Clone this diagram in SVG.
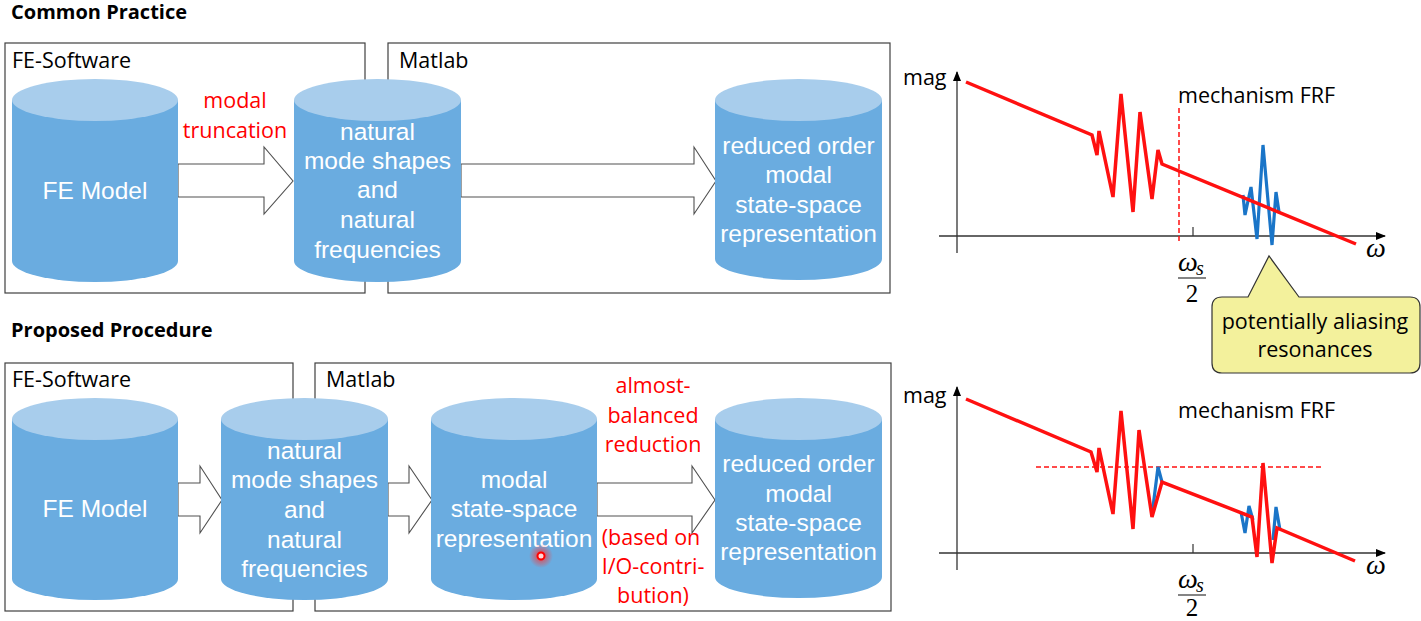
<svg xmlns="http://www.w3.org/2000/svg" width="1421" height="621" viewBox="0 0 1421 621">
<style>
.bg{fill:#ffffff}
.frame{fill:none;stroke:#404040;stroke-width:1.2}
.head{font-family:"Open Sans","Liberation Sans",sans-serif;font-weight:bold;font-size:20px;fill:#000}
.lbl{font-family:"Open Sans","Liberation Sans",sans-serif;font-size:21.5px;fill:#000}
.red{font-family:"Open Sans","Liberation Sans",sans-serif;font-size:21.5px;fill:#ff0000;text-anchor:middle}
.body{fill:#6aace0}
.top{fill:#a8cdec}
.ct{font-family:"Liberation Sans",Arial,sans-serif;font-size:24.5px;fill:#ffffff;text-anchor:middle}
.arrow{fill:#ffffff;stroke:#505050;stroke-width:1.1;stroke-linejoin:miter}
.axis{fill:none;stroke:#333;stroke-width:1.3}
.tick{fill:none;stroke:#333;stroke-width:1.2}
.frf{fill:none;stroke:#ff1010;stroke-width:3.5;stroke-linejoin:miter}
.blu{fill:none;stroke:#1a75c8;stroke-width:3.2;stroke-linejoin:miter}
.dash{fill:none;stroke:#ff1010;stroke-width:1.5;stroke-dasharray:5 3}
.math{font-family:"Liberation Serif","DejaVu Serif",serif;font-style:italic;font-size:28px;fill:#000}
.sub{font-family:"Liberation Serif","DejaVu Serif",serif;font-style:italic;font-size:20px;fill:#000}
.num{font-family:"Liberation Serif","DejaVu Serif",serif;font-size:25px;fill:#000;text-anchor:middle}
.callout{fill:#f3f19c;stroke:#333;stroke-width:1.2}
</style>
<defs>
<marker id="ah" viewBox="0 0 10 10" refX="9" refY="5" markerWidth="10" markerHeight="10" markerUnits="userSpaceOnUse" orient="auto">
<path d="M0,1 L10,5 L0,9 Z" fill="#000"/>
</marker>
<radialGradient id="glow">
<stop offset="0" stop-color="#ff3030" stop-opacity="0.9"/>
<stop offset="1" stop-color="#ff3030" stop-opacity="0"/>
</radialGradient>
</defs>
<rect class="bg" x="0" y="0" width="1421" height="621"/>

<!-- headings -->
<text class="head" x="11" y="19">Common Practice</text>
<text class="head" x="11" y="337">Proposed Procedure</text>

<!-- frames -->
<g id="frames">
<rect class="frame" x="5" y="43" width="360" height="250"/>
<rect class="frame" x="388" y="43" width="502" height="250"/>
<rect class="frame" x="5" y="363" width="288" height="248"/>
<rect class="frame" x="315" y="363" width="576" height="248"/>
<text class="lbl" x="12" y="68">FE-Software</text>
<text class="lbl" x="399" y="68">Matlab</text>
<text class="lbl" x="12" y="387">FE-Software</text>
<text class="lbl" x="326" y="387">Matlab</text>
</g>

<!-- connectors -->
<g id="connectors">
<polygon class="arrow" points="178,164 264,164 264,147 293,181 264,214 264,197 178,197"/>
<polygon class="arrow" points="461,164 694,164 694,147 716,181 694,214 694,197 461,197"/>
<polygon class="arrow" points="178,483 200,483 200,466 222,500 200,533 200,516 178,516"/>
<polygon class="arrow" points="388,483 409,483 409,466 432,500 409,533 409,516 388,516"/>
<polygon class="arrow" points="597,483 692,483 692,466 715,500 692,533 692,516 597,516"/>
<text class="red" x="235" y="108">modal</text>
<text class="red" x="235" y="138">truncation</text>
<text class="red" x="653" y="393">almost-</text>
<text class="red" x="653" y="423">balanced</text>
<text class="red" x="653" y="452">reduction</text>
<text class="red" x="651" y="545">(based on</text>
<text class="red" x="653" y="574">I/O-contri-</text>
<text class="red" x="653" y="603">bution)</text>
</g>

<!-- top cylinders -->
<g id="cp-fe-model">
<path class="body" d="M12,100 L12,261 A83,21 0 0 0 178,261 L178,100 Z"/>
<ellipse class="top" cx="95" cy="100" rx="83" ry="21"/>
<text class="ct" x="95" y="199">FE Model</text>
</g>
<g id="cp-natural-modes">
<path class="body" d="M294,100 L294,261 A83.5,21 0 0 0 461,261 L461,100 Z"/>
<ellipse class="top" cx="377.5" cy="100" rx="83.5" ry="21"/>
<text class="ct" x="377.5" y="140">natural</text>
<text class="ct" x="377.5" y="169">mode shapes</text>
<text class="ct" x="377.5" y="198">and</text>
<text class="ct" x="377.5" y="228">natural</text>
<text class="ct" x="377.5" y="258">frequencies</text>
</g>
<g id="cp-reduced">
<path class="body" d="M715,100 L715,259 A83.5,21 0 0 0 882,259 L882,100 Z"/>
<ellipse class="top" cx="798.5" cy="100" rx="83.5" ry="21"/>
<text class="ct" x="798.5" y="154">reduced order</text>
<text class="ct" x="798.5" y="183">modal</text>
<text class="ct" x="798.5" y="213">state-space</text>
<text class="ct" x="798.5" y="242">representation</text>
</g>

<!-- bottom cylinders -->
<g id="pp-fe-model">
<path class="body" d="M12,419 L12,579 A83,21 0 0 0 178,579 L178,419 Z"/>
<ellipse class="top" cx="95" cy="419" rx="83" ry="21"/>
<text class="ct" x="95" y="517">FE Model</text>
</g>
<g id="pp-natural-modes">
<path class="body" d="M221,419 L221,579 A83.5,21 0 0 0 388,579 L388,419 Z"/>
<ellipse class="top" cx="304.5" cy="419" rx="83.5" ry="21"/>
<text class="ct" x="304.5" y="459">natural</text>
<text class="ct" x="304.5" y="488">mode shapes</text>
<text class="ct" x="304.5" y="518">and</text>
<text class="ct" x="304.5" y="548">natural</text>
<text class="ct" x="304.5" y="577">frequencies</text>
</g>
<g id="pp-modal-ss">
<path class="body" d="M431,419 L431,579 A83,21 0 0 0 597,579 L597,419 Z"/>
<ellipse class="top" cx="514" cy="419" rx="83" ry="21"/>
<text class="ct" x="514" y="488">modal</text>
<text class="ct" x="514" y="517">state-space</text>
<text class="ct" x="514" y="547">representation</text>
<circle cx="541" cy="556" r="12" fill="url(#glow)"/>
<circle cx="541" cy="556" r="3.5" fill="#ffd6d6" stroke="#ff0000" stroke-width="2"/>
</g>
<g id="pp-reduced">
<path class="body" d="M715,419 L715,577 A83.5,21 0 0 0 882,577 L882,419 Z"/>
<ellipse class="top" cx="798.5" cy="419" rx="83.5" ry="21"/>
<text class="ct" x="798.5" y="472">reduced order</text>
<text class="ct" x="798.5" y="502">modal</text>
<text class="ct" x="798.5" y="531">state-space</text>
<text class="ct" x="798.5" y="560">representation</text>
</g>

<!-- top plot -->
<g id="plot-top">
<line class="axis" x1="957" y1="253" x2="957" y2="72" marker-end="url(#ah)"/>
<line class="axis" x1="939" y1="236" x2="1385" y2="236" marker-end="url(#ah)"/>
<line class="tick" x1="1193" y1="227" x2="1193" y2="236"/>
<text class="lbl" x="903" y="85">mag</text>
<text class="lbl" x="1178" y="103">mechanism FRF</text>
<text class="math" x="1366" y="257">ω</text>
<line class="dash" x1="1179" y1="108" x2="1179" y2="243"/>
<text class="math" x="1178" y="271">ω</text>
<text class="sub" x="1196" y="275">s</text>
<line class="tick" x1="1178" y1="278" x2="1206" y2="278"/>
<text class="num" x="1192" y="302">2</text>
<polyline class="blu" points="1243,195 1245,215 1251,187 1257,239 1263,145 1272,245 1276,192 1279,212"/>
<polyline class="frf" points="966,82 1092,135 1097,155 1099,131 1113,197 1121,94 1133,212 1140,112 1152,199 1158,150 1162,164 1356,244"/>
</g>

<g id="callout">
<path class="callout" d="M1222,297 L1248,297 L1269,256 L1299,297 L1410,297 Q1420,297 1420,307 L1420,363 Q1420,373 1410,373 L1222,373 Q1212,373 1212,363 L1212,307 Q1212,297 1222,297 Z"/>
<text class="lbl" x="1315" y="329" text-anchor="middle">potentially aliasing</text>
<text class="lbl" x="1315" y="357" text-anchor="middle">resonances</text>
</g>

<!-- bottom plot -->
<g id="plot-bottom">
<line class="axis" x1="957" y1="570" x2="957" y2="387" marker-end="url(#ah)"/>
<line class="axis" x1="939" y1="553" x2="1385" y2="553" marker-end="url(#ah)"/>
<line class="tick" x1="1193" y1="544" x2="1193" y2="553"/>
<text class="lbl" x="903" y="403">mag</text>
<text class="lbl" x="1178" y="418">mechanism FRF</text>
<text class="math" x="1366" y="574">ω</text>
<line class="dash" x1="1036" y1="467" x2="1323" y2="467"/>
<text class="math" x="1178" y="588">ω</text>
<text class="sub" x="1196" y="592">s</text>
<line class="tick" x1="1178" y1="595" x2="1206" y2="595"/>
<text class="num" x="1192" y="616">2</text>
<polyline class="blu" points="1152,515 1158,467 1162,482"/>
<polyline class="blu" points="1241,512 1245,533 1249,506 1253,520"/>
<polyline class="blu" points="1273,540 1276,507 1280,530"/>
<polyline class="frf" points="966,399 1091,452 1097,472 1099,448 1113,514 1121,411 1133,529 1139,430 1152,517 1162,482 1252,517 1257,557 1263,463 1272,563 1277,528 1355,561"/>
</g>
</svg>
